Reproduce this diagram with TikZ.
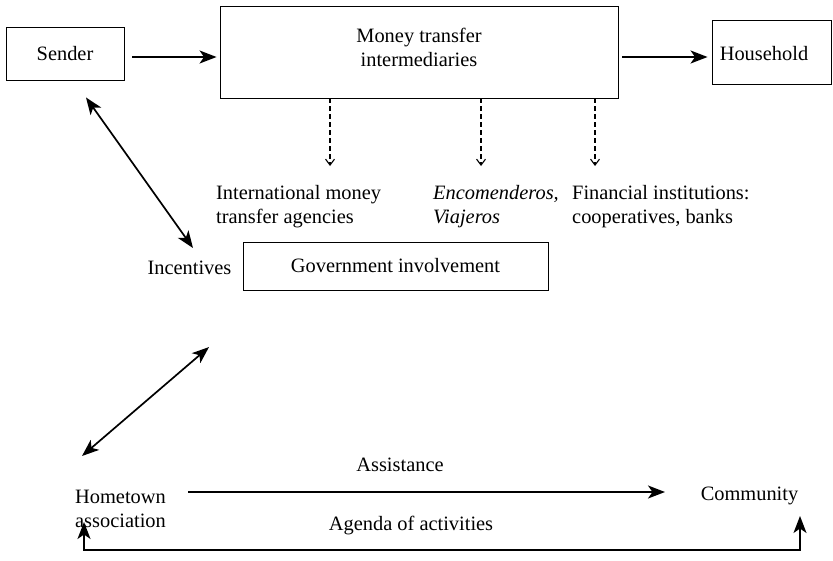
\documentclass[tikz,border=0pt]{standalone}
\usepackage{fontspec}
\setmainfont{Liberation Serif}
\usetikzlibrary{arrows.meta}
\begin{document}
\begin{tikzpicture}[x=1pt,y=-1pt,
  every node/.style={font=\fontsize{20.4}{24}\selectfont, inner sep=0pt},
  box/.style={draw, line width=0.9pt, minimum width=#1},
  label/.style={align=left, anchor=north west},
  flow/.style={line width=1.7pt, -{Stealth[length=17pt,width=13pt,inset=4.5pt]}},
  both/.style={line width=1.7pt, {Stealth[length=17pt,width=13pt,inset=4.5pt]}-{Stealth[length=17pt,width=13pt,inset=4.5pt]}},
  branch/.style={line width=1.1pt, dash pattern=on 5pt off 3pt, -{Straight Barb[length=6pt,width=9pt,line width=1.1pt]}}
]
\useasboundingbox (0,0) rectangle (833,560);

% top row
\node[box=118pt, minimum height=53pt] (sender) at (65,53.5) {Sender};
\node[box=398pt, minimum height=92pt] (mti) at (419,52) {};
\node[align=center] (mtilabel) at (419,47) {Money transfer\\intermediaries};
\node[box=119pt, minimum height=64pt] (household) at (771.5,52) {};
\node (householdlabel) at (764,54) {Household};

\draw[flow] ([xshift=8pt]sender.east |- 0,57) -- ([xshift=-3pt]mti.west |- 0,57);
\draw[flow] ([xshift=4pt]mti.east |- 0,57) -- ([xshift=-4pt]household.west |- 0,57);

% kinds of intermediaries
\node[label] (agencies) at (216,185) {International money\\transfer agencies};
\node[label] (encom) at (433,185) {\itshape Encomenderos,\\\itshape Viajeros};
\node[label] (finance) at (572,185) {Financial institutions:\\cooperatives, banks};

\draw[branch] (mti.south -| 330,0) -- ([yshift=19pt]agencies.north -| 330,0);
\draw[branch] (mti.south -| 481,0) -- ([yshift=19pt]encom.north -| 481,0);
\draw[branch] (mti.south -| 595,0) -- ([yshift=19pt]finance.north -| 595,0);

% government
\node (incent) at (189.5,268) {Incentives};
\node[box=305pt, minimum height=48pt] (gov) at (395.5,266) {Government involvement};

\draw[both] ([shift={(21,17)}]sender.south) -- ([shift={(3.5,-20)}]incent.center);

% hometown association and community
\node[align=left] (hometown) at (120.5,509) {Hometown\\association};
\node (community) at (749.5,496) {Community};
\node (assist) at (400,465) {Assistance};
\node (agenda) at (411,526) {Agenda of activities};

\draw[both] ([shift={(19.5,72)}]incent.south) -- ([shift={(-38.5,-53)}]hometown.center);
\draw[flow] ([shift={(67.5,-17)}]hometown.center) -- ([shift={(-84.5,-4)}]community.center);
\draw[both] ([shift={(-36.5,13)}]hometown.center) -- ++(0,28) -| ([shift={(50.5,20)}]community.center);
\end{tikzpicture}
\end{document}
